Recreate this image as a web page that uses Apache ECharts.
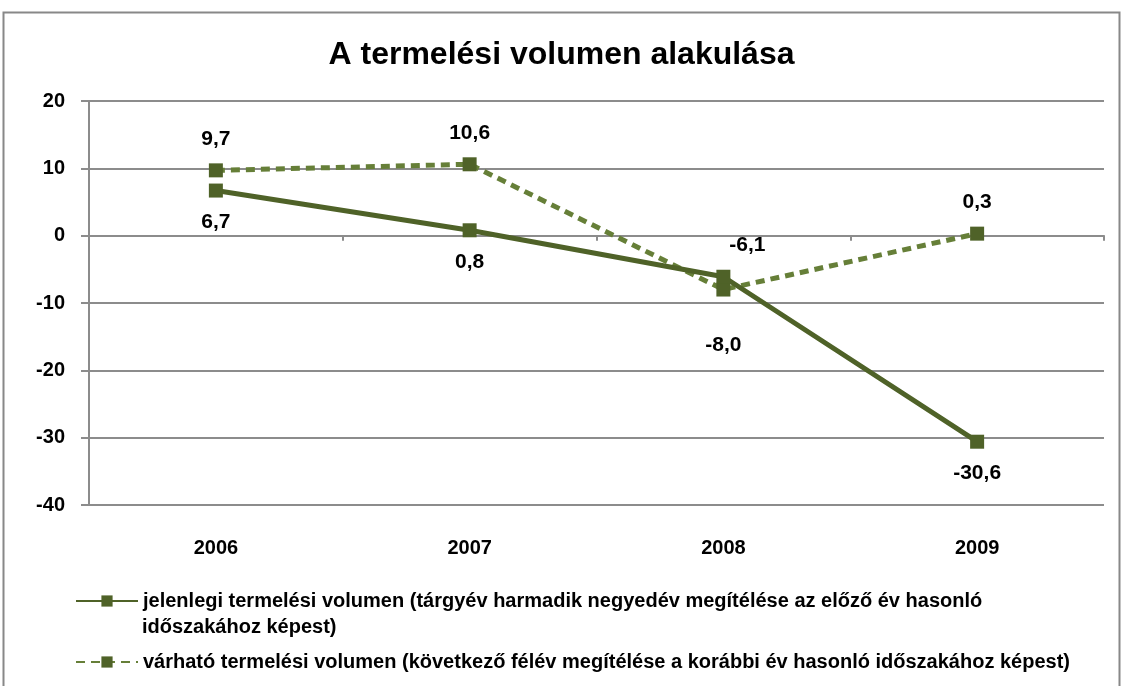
<!DOCTYPE html>
<html>
<head>
<meta charset="utf-8">
<script src="https://cdn.jsdelivr.net/npm/echarts@6/dist/echarts.min.js"></script>
<style>
  html, body { margin: 0; padding: 0; background: #fff; }
  #main { width: 1123px; height: 686px; }
</style>
</head>
<body>
<div id="main"></div>
<script>
// adatok
var years = ['2006', '2007', '2008', '2009'];
var jelenlegi = [6.7, 0.8, -6.1, -30.6];
var varhato = [9.7, 10.6, -8.0, 0.3];
var yTicks = [-40, -30, -20, -10, 0, 10, 20];

var nameJelenlegi = 'jelenlegi termelési volumen (tárgyév harmadik negyedév megítélése az előző év hasonló';
var nameJelenlegi2 = 'időszakához képest)';
var nameVarhato = 'várható termelési volumen (következő félév megítélése a korábbi év hasonló időszakához képest)';

var green = '#4f6228';
var dashGreen = '#667f38';
var gridGray = '#8c8c8c';
var font = '"Liberation Sans", Arial, sans-serif';

// címkék helye pontonként
var posJelenlegi = ['bottom', 'bottom', 'top', 'bottom'];
var posVarhato = ['top', 'top', 'bottom', 'top'];

function fmt(v) {
    return v.toFixed(1).replace('.', ',');
}

var chart = echarts.init(document.getElementById('main'));

chart.setOption({
    animation: false,
    title: {
        text: 'A termelési volumen alakulása',
        left: 'center',
        top: 34,
        textStyle: { fontFamily: font, fontSize: 32, fontWeight: 'bold', color: '#000' }
    },
    graphic: [{
        type: 'rect',
        shape: { x: 3.5, y: 12.5, width: 1116, height: 690 },
        style: { fill: 'none', stroke: '#888', lineWidth: 2 },
        silent: true
    }, {
        // a jelmagyarázat első tételének második sora
        type: 'text',
        left: 142,
        top: 617,
        style: { text: nameJelenlegi2, font: 'bold 20px ' + font, fill: '#000' },
        silent: true
    }],
    legend: [{
        data: [nameJelenlegi],
        left: 70,
        top: 586,
        itemWidth: 62,
        itemHeight: 14,
        textStyle: { fontFamily: font, fontSize: 20, fontWeight: 'bold', color: '#000' }
    }, {
        data: [nameVarhato],
        left: 70,
        top: 647,
        itemWidth: 62,
        itemHeight: 14,
        textStyle: { fontFamily: font, fontSize: 20, fontWeight: 'bold', color: '#000' }
    }],
    grid: { left: 89, right: 19, top: 101, bottom: 181 },
    xAxis: [{
        type: 'category',
        data: years,
        boundaryGap: true,
        axisLine: { onZero: true, lineStyle: { color: gridGray, width: 2 } },
        axisTick: { show: true, length: 5, lineStyle: { color: gridGray, width: 2 } },
        axisLabel: { show: false }
    }, {
        type: 'category',
        data: years,
        position: 'bottom',
        boundaryGap: true,
        axisLine: { show: false, onZero: false },
        axisTick: { show: false },
        axisLabel: { margin: 33, fontFamily: font, fontSize: 20, fontWeight: 'bold', color: '#000' }
    }],
    yAxis: {
        type: 'value',
        min: yTicks[0],
        max: yTicks[yTicks.length - 1],
        interval: 10,
        axisLine: { show: true, lineStyle: { color: gridGray, width: 2 } },
        axisTick: { show: true, length: 8, lineStyle: { color: gridGray, width: 2 } },
        splitLine: { lineStyle: { color: gridGray, width: 2 } },
        axisLabel: { margin: 24, fontFamily: font, fontSize: 20, fontWeight: 'bold', color: '#000' }
    },
    series: [{
        name: nameJelenlegi,
        type: 'line',
        data: jelenlegi.map(function (v, i) {
            return { value: v, label: { position: posJelenlegi[i], offset: i === 2 ? [24, 0] : [0, 0] } };
        }),
        symbol: 'rect',
        symbolSize: 14,
        itemStyle: { color: green },
        lineStyle: { color: green, width: 5 },
        label: {
            show: true,
            distance: 14,
            fontFamily: font, fontSize: 21, fontWeight: 'bold', color: '#000',
            formatter: function (p) { return fmt(p.value); }
        },
        z: 3
    }, {
        name: nameVarhato,
        type: 'line',
        data: varhato.map(function (v, i) {
            return { value: v, label: { position: posVarhato[i], distance: i === 2 ? 38 : 14 } };
        }),
        symbol: 'rect',
        symbolSize: 14,
        itemStyle: { color: green },
        lineStyle: { color: dashGreen, width: 5, type: [9, 6] },
        label: {
            show: true,
            distance: 14,
            fontFamily: font, fontSize: 21, fontWeight: 'bold', color: '#000',
            formatter: function (p) { return fmt(p.value); }
        },
        z: 2
    }]
});

window.onresize = function () {
    chart.resize();
};
</script>
</body>
</html>
